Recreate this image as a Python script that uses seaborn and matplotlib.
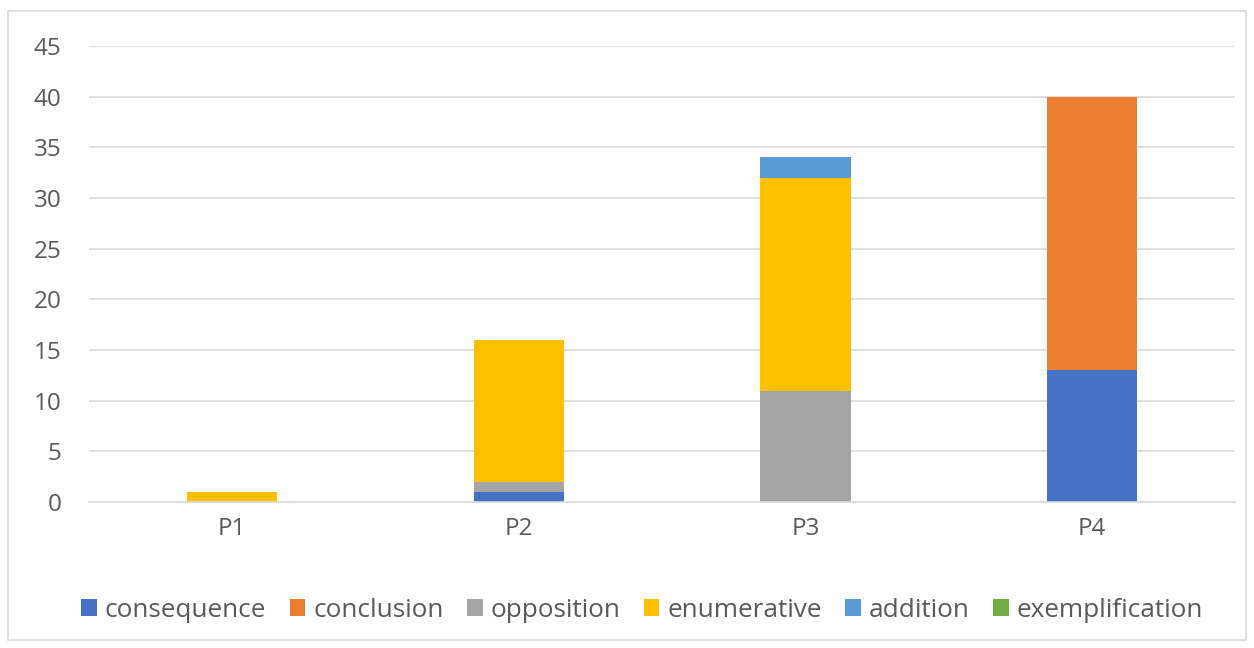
import pandas as pd
import matplotlib.pyplot as plt
import seaborn as sns
from matplotlib.patches import Rectangle

periods = ["P1", "P2", "P3", "P4"]
categories = ["consequence", "conclusion", "opposition", "enumerative", "addition", "exemplification"]
consequence = [0, 1, 0, 13]
conclusion = [0, 0, 0, 27]
opposition = [0, 1, 11, 0]
enumerative = [1, 14, 21, 0]
addition = [0, 0, 2, 0]
exemplification = [0, 0, 0, 0]
colors = ["#4472C4", "#ED7D31", "#A5A5A5", "#FFC000", "#5B9BD5", "#70AD47"]

df = pd.DataFrame({
    "period": periods,
    "consequence": consequence,
    "conclusion": conclusion,
    "opposition": opposition,
    "enumerative": enumerative,
    "addition": addition,
    "exemplification": exemplification,
})

sns.set_style("white")
plt.rcParams["font.family"] = ["Open Sans", "DejaVu Sans"]
text_col = "#595959"

fig = plt.figure(figsize=(12.54, 6.48), dpi=100)
ax = fig.add_axes([0.071, 0.2253, 0.914, 0.7037])

# stack the bars one category at a time
bottom = [0] * len(periods)
for cat, col in zip(categories, colors):
    sns.barplot(x="period", y=cat, data=df, color=col, bottom=bottom,
                width=0.315, ax=ax, label=cat, edgecolor="none", linewidth=0,
                saturation=1)
    bottom = [b + v for b, v in zip(bottom, df[cat])]

ax.set_ylim(0, 45)
ax.set_yticks(range(0, 46, 5))
ax.set_xlim(-0.5, 3.5)
ax.yaxis.grid(True, color="#d9d9d9", linewidth=1.2)
ax.set_axisbelow(True)
for s in ax.spines.values():
    s.set_visible(False)
ax.spines["bottom"].set_visible(True)
ax.spines["bottom"].set_color("#d9d9d9")
ax.spines["bottom"].set_linewidth(1.2)
ax.set_xlabel("")
ax.set_ylabel("")
ax.tick_params(axis="both", length=0, labelsize=17.5, colors=text_col)
ax.tick_params(axis="x", pad=11)
ax.tick_params(axis="y", pad=20)

handles, labels = ax.get_legend_handles_labels()
if ax.get_legend() is not None:
    ax.get_legend().remove()
fig.legend(handles, labels, loc="center", bbox_to_anchor=(0.512, 0.058), ncol=6,
           frameon=False, fontsize=18.8, labelcolor=text_col, handlelength=0.6,
           handleheight=0.6, handletextpad=0.3, columnspacing=0.9)

fig.patches.append(Rectangle((8 / 1254, 8 / 648), 1238 / 1254, 629 / 648,
                             transform=fig.transFigure, fill=False,
                             edgecolor="#d9d9d9", linewidth=1.2))

fig.savefig("out.png", dpi=100)
